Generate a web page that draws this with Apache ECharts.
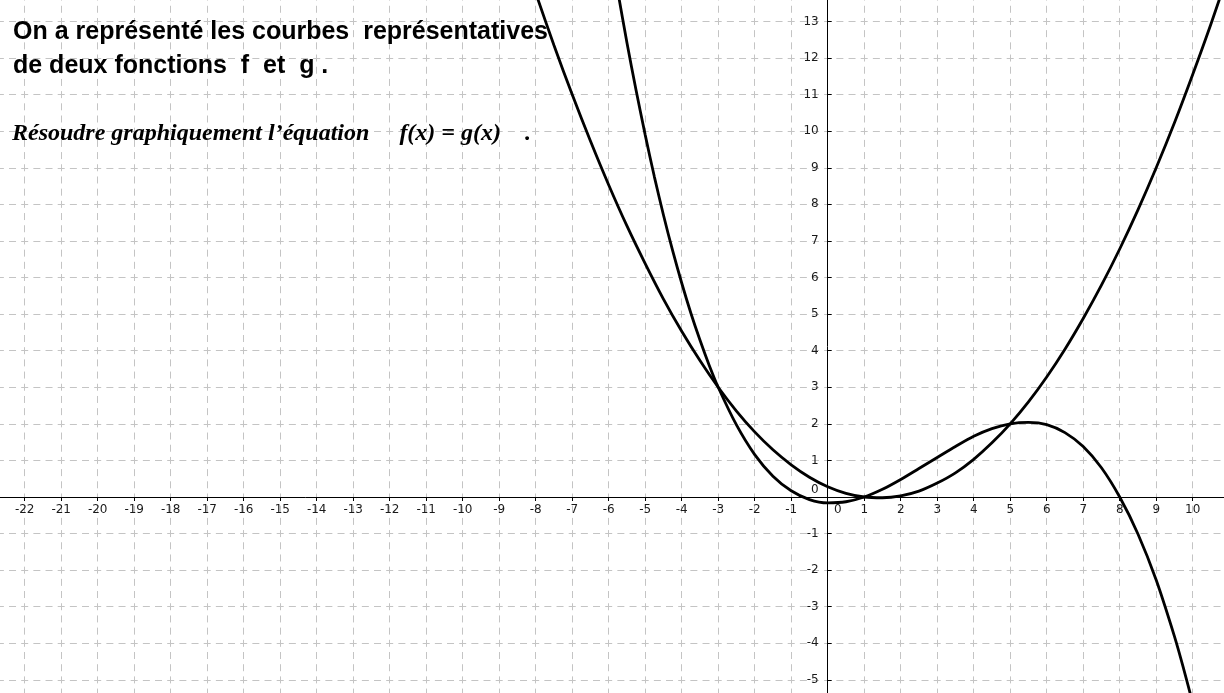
<!DOCTYPE html>
<html>
<head>
<meta charset="utf-8">
<script src="https://cdn.jsdelivr.net/npm/echarts@6/dist/echarts.min.js"></script>
<style>
  html, body { margin: 0; padding: 0; background: #ffffff; }
  #chart { width: 1224px; height: 693px; }
</style>
</head>
<body>
<div id="chart"></div>
<script>
// Curve f (parabola): sampled x positions and values
const fX = [-8, -7.5, -7, -6.5, -6, -5.5, -5, -4.5, -4, -3.5, -3, -2.5, -2, -1.5, -1, -0.5,
            0, 0.5, 1, 1.5, 2, 2.5, 3, 3.5, 4, 4.5, 5, 5.5, 6, 6.5, 7, 7.5, 8, 8.5, 9, 9.5, 10, 10.5, 11];
const fY = [13.78, 12.35, 11.00, 9.73, 8.53, 7.41, 6.38, 5.41, 4.53, 3.73, 3.00, 2.35, 1.78, 1.29, 0.88, 0.54,
            0.28, 0.10, 0.00, -0.02, 0.03, 0.16, 0.38, 0.66, 1.03, 1.48, 2.00, 2.60, 3.28, 4.04, 4.88, 5.79, 6.78, 7.85, 9.00, 10.23, 11.55, 12.93, 14.40];

// Curve g (cubic): sampled x positions and values
const gX = [-6, -5.75, -5.5, -5.25, -5, -4.75, -4.5, -4.25, -4, -3.75, -3.5, -3.25, -3, -2.5, -2, -1.5, -1, -0.5,
            0, 0.5, 1, 1.5, 2, 2.5, 3, 3.5, 4, 4.5, 5, 5.5, 6, 6.5, 7, 7.5, 8, 8.5, 9, 9.5, 9.75, 10, 10.25];
const gY = [15.31, 13.82, 12.42, 11.12, 9.90, 8.76, 7.71, 6.74, 5.85, 5.03, 4.29, 3.61, 3.00, 1.97, 1.16, 0.57, 0.17, -0.07,
            -0.16, -0.13, 0.00, 0.21, 0.48, 0.78, 1.08, 1.38, 1.66, 1.87, 2.00, 2.04, 1.98, 1.76, 1.38, 0.80, 0.00, -1.01, -2.27, -3.81, -4.69, -5.64, -6.68];

// Axis extents (whole units) and grid step
const xRange = [-23, 11];
const yRange = [-6, 14];
const step = 1;

// Texts shown on the sheet
const line1 = 'On a représenté les courbes  représentatives';
const line2 = 'de deux fonctions  f  et  g .';
const line3 = 'Résoudre graphiquement l\u2019équation     f(x) = g(x)    .';

// Screen scale: pixels per unit and origin position
const pxX = 36.5, pxY = 36.58;
const originX = 827.7, originY = 497;
const W = 1224, H = 693;

const gridLeft = originX + xRange[0] * pxX;
const gridRight = W - (originX + xRange[1] * pxX);
const gridTop = originY - yRange[1] * pxY;
const gridBottom = H - (originY - yRange[0] * pxY);

// The axes cross at the origin: shift each one from its grid edge to zero
const xAxisShift = -(0 - yRange[0]) * pxY;
const yAxisShift = -(0 - xRange[0]) * pxX;

const zip = (xs, ys) => xs.map((x, i) => [x, ys[i]]);

const gridColor = '#c4c4c4';
const labelText = { fontFamily: 'DejaVu Sans', fontSize: 12, color: '#1a1a1a' };

const chart = echarts.init(document.getElementById('chart'));
chart.setOption({
  animation: false,
  backgroundColor: '#ffffff',
  grid: {
    left: gridLeft, right: gridRight, top: gridTop, bottom: gridBottom,
    containLabel: false,
    outerBoundsMode: 'none'
  },
  xAxis: {
    type: 'value', position: 'bottom', offset: xAxisShift,
    min: xRange[0], max: xRange[1], interval: step,
    axisLine: { onZero: false, lineStyle: { color: '#000', width: 1 } },
    axisTick: { show: true, length: 4, lineStyle: { color: '#000' } },
    axisLabel: Object.assign({
      show: true, margin: 7,
      showMinLabel: false, showMaxLabel: false,
      formatter: v => v === 0 ? '{o|0}' : String(v),
      rich: { o: Object.assign({ padding: [0, 0, 0, 20] }, labelText) }
    }, labelText),
    splitLine: { show: true, lineStyle: { color: gridColor, width: 1, type: [7, pxY / 3 - 7], dashOffset: 3.5 } }
  },
  yAxis: {
    type: 'value', position: 'left', offset: yAxisShift,
    min: yRange[0], max: yRange[1], interval: step,
    axisLine: { onZero: false, lineStyle: { color: '#000', width: 1 } },
    axisTick: { show: true, inside: true, length: 4, lineStyle: { color: '#000' } },
    axisLabel: Object.assign({
      show: true, margin: 9,
      showMinLabel: false, showMaxLabel: false,
      formatter: v => v === 0 ? '{o|0}' : String(v),
      rich: { o: Object.assign({ padding: [0, 0, 15, 0] }, labelText) }
    }, labelText),
    splitLine: { show: true, lineStyle: { color: gridColor, width: 1, type: [7, pxX / 3 - 7], dashOffset: 3.5 } }
  },
  series: [
    {
      name: 'f', type: 'line', data: zip(fX, fY),
      showSymbol: false, smooth: 0.3, clip: true,
      lineStyle: { color: '#000', width: 2.8 }
    },
    {
      name: 'g', type: 'line', data: zip(gX, gY),
      showSymbol: false, smooth: 0.3, clip: true,
      lineStyle: { color: '#000', width: 2.8 }
    }
  ],
  graphic: [
    { type: 'text', left: 13, top: 20, z: 100,
      style: { text: line1, font: 'bold 25px "Liberation Sans", Arial, sans-serif', fill: '#000' } },
    { type: 'text', left: 13, top: 54, z: 100,
      style: { text: line2, font: 'bold 25px "Liberation Sans", Arial, sans-serif', fill: '#000' } },
    { type: 'text', left: 12, top: 122, z: 100,
      style: { text: line3, font: 'italic bold 24px "Liberation Serif", "Times New Roman", serif', fill: '#000' } }
  ]
});
</script>
</body>
</html>
